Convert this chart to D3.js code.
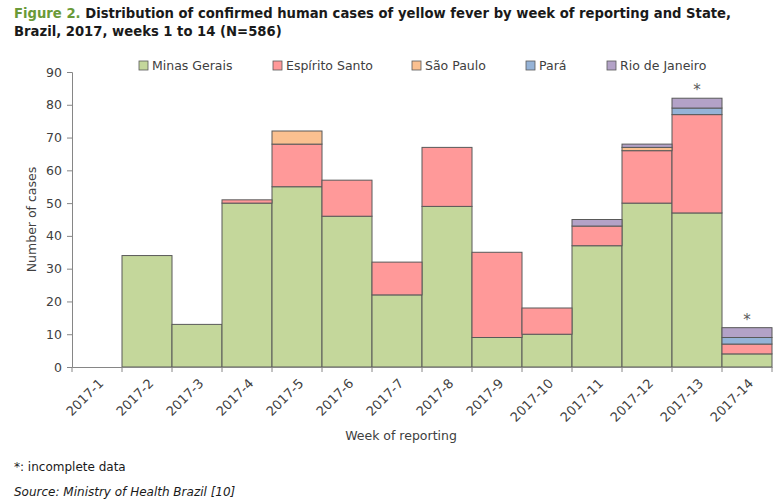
<!DOCTYPE html>
<html><head><meta charset="utf-8">
<script src="https://cdn.jsdelivr.net/npm/d3@7"></script>
<style>body{margin:0;background:#fff}svg{display:block}</style>
</head><body>
<svg id="c" width="781" height="503"></svg>
<script>
const weeks = ["2017-1","2017-2","2017-3","2017-4","2017-5","2017-6","2017-7","2017-8","2017-9","2017-10","2017-11","2017-12","2017-13","2017-14"];
const states = ["Minas Gerais","Espírito Santo","São Paulo","Pará","Rio de Janeiro"];
const minasGerais   = [0,34,13,50,55,46,22,49, 9,10,37,50,47,4];
const espiritoSanto = [0, 0, 0, 1,13,11,10,18,26, 8, 6,16,30,3];
const saoPaulo      = [0, 0, 0, 0, 4, 0, 0, 0, 0, 0, 0, 1, 0,0];
const para          = [0, 0, 0, 0, 0, 0, 0, 0, 0, 0, 0, 0, 2,2];
const rioDeJaneiro  = [0, 0, 0, 0, 0, 0, 0, 0, 0, 0, 2, 1, 3,3];
const incomplete = ["2017-13","2017-14"];
const yTicks = [0,10,20,30,40,50,60,70,80,90];
const colors = ["#c4d79b","#ff9999","#fac090","#95b3d7","#b3a2c7"];

const seriesArr = [minasGerais, espiritoSanto, saoPaulo, para, rioDeJaneiro];
const rows = weeks.map((w,i)=>{const r={week:w}; states.forEach((s,j)=>r[s]=seriesArr[j][i]); return r;});
const stacked = d3.stack().keys(states)(rows);

const svg = d3.select("#c");
const font = "DejaVu Sans, Verdana, sans-serif";
const L=72, R=772, T=72, B=367;
const x = d3.scaleBand().domain(weeks).range([L,R]).padding(0);
const y = d3.scaleLinear().domain([0,90]).range([B,T]);
const color = d3.scaleOrdinal().domain(states).range(colors);

// Title
const title = svg.append("text").attr("x",14).attr("y",18).attr("font-family",font).attr("font-weight","bold").attr("font-size",15);
title.append("tspan").attr("fill","#6a9a38").text("Figure 2. ");
title.append("tspan").attr("fill","#1a1a1a").text("Distribution of confirmed human cases of yellow fever by week of reporting and State,");
const tw = title.node().getComputedTextLength();
const fs = 15*718/tw;
title.attr("font-size",fs);
svg.append("text").attr("x",14).attr("y",36).attr("font-family",font).attr("font-weight","bold").attr("font-size",fs).attr("fill","#1a1a1a")
  .text("Brazil, 2017, weeks 1 to 14 (N=586)");

// Bars
svg.append("g").selectAll("g").data(stacked).join("g").attr("fill",d=>color(d.key))
  .selectAll("rect").data(d=>d.filter(p=>p[1]-p[0]>0)).join("rect")
  .attr("x",d=>x(d.data.week)).attr("width",x.bandwidth())
  .attr("y",d=>y(d[1])).attr("height",d=>y(d[0])-y(d[1]))
  .attr("stroke","#595959").attr("stroke-width",1);

// Y axis
const yAxis = svg.append("g").attr("transform",`translate(${L},0)`)
  .call(d3.axisLeft(y).tickValues(yTicks).tickSize(5).tickPadding(5));
yAxis.select(".domain").attr("stroke","#868686");
yAxis.selectAll(".tick line").attr("stroke","#868686");
yAxis.selectAll("text").attr("font-family",font).attr("font-size",12.5).attr("fill","#404040");

// X axis
const xAxis = svg.append("g").attr("transform",`translate(0,${B})`)
  .call(d3.axisBottom(x).tickSize(0).tickFormat(""));
xAxis.select(".domain").attr("stroke","#868686");
xAxis.selectAll(".tick").remove();
svg.append("g").selectAll("line").data(d3.range(weeks.length+1)).join("line")
  .attr("x1",i=>L+i*x.bandwidth()).attr("x2",i=>L+i*x.bandwidth())
  .attr("y1",B).attr("y2",B+5).attr("stroke","#868686");
svg.append("g").selectAll("text").data(weeks).join("text")
  .attr("transform",d=>`translate(${x(d)+x.bandwidth()/2+4},${B+14}) rotate(-45)`)
  .attr("text-anchor","end").attr("dy","0.35em")
  .attr("font-family",font).attr("font-size",13).attr("fill","#404040").text(d=>d);

// Axis titles
svg.append("text").attr("transform",`translate(36,${(T+B)/2}) rotate(-90)`).attr("text-anchor","middle")
  .attr("font-family",font).attr("font-size",12.5).attr("fill","#404040").text("Number of cases");
svg.append("text").attr("x",401).attr("y",440).attr("text-anchor","middle")
  .attr("font-family",font).attr("font-size",12.5).attr("fill","#404040").text("Week of reporting");

// Asterisks
svg.append("g").selectAll("text").data(incomplete).join("text")
  .attr("x",d=>x(d)+x.bandwidth()/2)
  .attr("y",d=>{const i=weeks.indexOf(d); return y(d3.sum(seriesArr,s=>s[i]))-3;})
  .attr("text-anchor","middle").attr("font-family",font).attr("font-size",15).attr("fill","#595959").text("*");

// Legend
const legX = [139,273,412,526,607];
const leg = svg.append("g").selectAll("g").data(states).join("g")
  .attr("transform",(d,i)=>`translate(${legX[i]},61)`);
leg.append("rect").attr("width",9).attr("height",9).attr("fill",d=>color(d)).attr("stroke","#595959").attr("stroke-width",0.8);
leg.append("text").attr("x",13).attr("y",9).attr("font-family",font).attr("font-size",12.5).attr("fill","#404040").text(d=>d);

// Footnotes
svg.append("text").attr("x",14).attr("y",471).attr("font-family",font).attr("font-size",12).attr("fill","#1a1a1a").text("*: incomplete data");
svg.append("text").attr("x",14).attr("y",496).attr("font-family",font).attr("font-size",12).attr("font-style","italic").attr("fill","#1a1a1a").text("Source: Ministry of Health Brazil [10]");
</script>
</body></html>
